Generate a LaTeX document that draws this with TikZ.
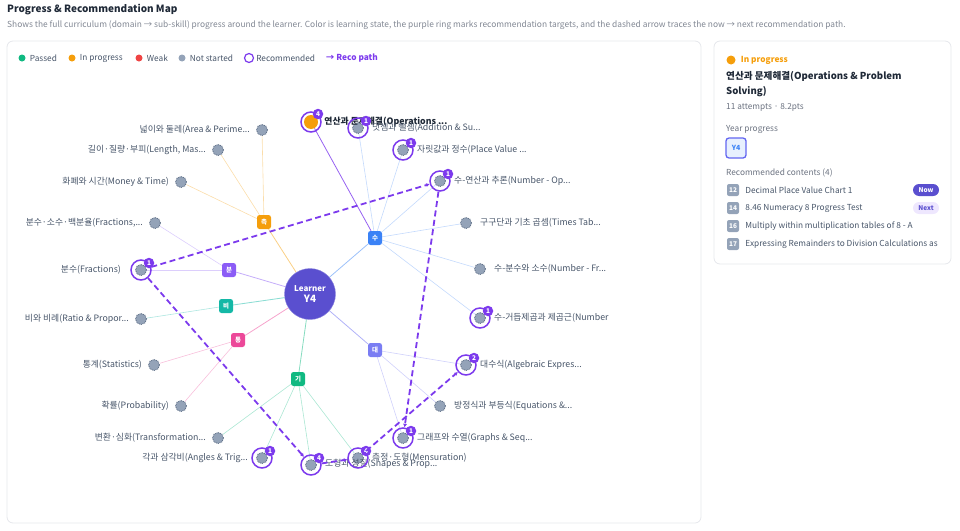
\documentclass[tikz,border=0pt]{standalone}
\usepackage{fontspec}
\setmainfont{Noto Sans CJK KR}
\usetikzlibrary{positioning,arrows.meta}
\pgfdeclarelayer{background}
\pgfsetlayers{background,main}

\definecolor{cOrange}{HTML}{F59E0B}
\definecolor{cBlue}{HTML}{3B82F6}
\definecolor{cViolet}{HTML}{8B5CF6}
\definecolor{cTeal}{HTML}{14B8A6}
\definecolor{cPink}{HTML}{EC4899}
\definecolor{cGreen}{HTML}{10B981}
\definecolor{cIndigo}{HTML}{6366F1}
\definecolor{cRed}{HTML}{EF4444}
\definecolor{cLearner}{HTML}{5A4FCF}
\definecolor{cReco}{HTML}{7C3AED}
\definecolor{cGray}{HTML}{94A3B8}
\definecolor{cGrayDk}{HTML}{64748B}
\definecolor{cText}{HTML}{475569}
\definecolor{cMuted}{HTML}{6B7280}
\definecolor{cBorder}{HTML}{E5E7EB}
\definecolor{cTitle}{HTML}{1F2937}

\begin{document}
\begin{tikzpicture}[x=1pt,y=-1pt,
  panel/.style={draw=cBorder,line width=0.8pt,rounded corners=6pt},
  skill/.style={circle,fill=cGray,draw=cGrayDk,dash pattern=on 0.9pt off 0.9pt,line width=0.9pt,minimum size=11pt,inner sep=0pt},
  ring/.style={circle,draw=cReco,line width=1.5pt,minimum size=20pt,inner sep=0pt},
  badge/.style={circle,fill=cReco,text=white,font=\bfseries\fontsize{6.5}{7}\selectfont,inner sep=0pt,minimum size=10.5pt},
  hub/.style={rounded corners=2.5pt,minimum size=14pt,inner sep=0pt,text=white,font=\bfseries\fontsize{6.5}{7}\selectfont},
  lbl/.style={text=cText,font=\fontsize{8.8}{10}\selectfont,inner sep=0pt},
  reco path/.style={cReco,dash pattern=on 6pt off 3.5pt,line width=1.8pt,-{Latex[length=3.5pt,width=4pt]}},
  dot/.style={circle,inner sep=0pt,minimum size=7pt},
  leg/.style={text=cText,font=\fontsize{8.3}{10}\selectfont,inner sep=0pt,anchor=west},
  ptxt/.style={font=\fontsize{8.3}{10}\selectfont,inner sep=0pt,anchor=west},
  num/.style={fill=cGray,rounded corners=2pt,minimum size=12pt,inner sep=0pt,text=white,font=\bfseries\fontsize{6.5}{7}\selectfont},
  pill/.style={rounded corners=6pt,minimum width=26pt,minimum height=12pt,inner sep=0pt,font=\bfseries\fontsize{6.5}{7}\selectfont}]
\useasboundingbox (0,0) rectangle (960,530);

% header
\node[anchor=west,inner sep=0pt,text=cTitle,font=\bfseries\fontsize{10}{12}\selectfont] (title) at (7,10) {Progress \& Recommendation Map};
\node[anchor=west,inner sep=0pt,text=cMuted!85,font=\fontsize{8.4}{9}\selectfont] (sub) at (7,25) {Shows the full curriculum (domain → sub-skill) progress around the learner. Color is learning state, the purple ring marks recommendation targets, and the dashed arrow traces the now → next recommendation path.};

\draw[panel] (7,41) rectangle (701,523);
\draw[panel] (714,41) rectangle (951,264);

% legend
\node[dot,fill=cGreen] (g1) at (22,58) {};
\node[leg,right=4pt of g1] {Passed};
\node[dot,fill=cOrange] (g2) at (72,58) {};
\node[leg,right=4pt of g2] {In progress};
\node[dot,fill=cRed] (g3) at (139,58) {};
\node[leg,right=4pt of g3] {Weak};
\node[dot,fill=cGray] (g4) at (182,58) {};
\node[leg,right=4pt of g4] {Not started};
\node[circle,draw=cReco,line width=1.2pt,minimum size=9pt,inner sep=0pt] (g5) at (249,58) {};
\node[leg,right=2pt of g5] {Recommended};
\node[leg,text=cReco,font=\bfseries\fontsize{8.3}{10}\selectfont] at (326,58) {→ Reco path};

% learner and domains
\node[circle,fill=cLearner,draw=cLearner!70,minimum size=51pt,inner sep=0pt,text=white,align=center,font=\bfseries\fontsize{8}{11}\selectfont] (L) at (310,294) {Learner\\{\fontsize{10}{11}\selectfont Y4}};
\node[hub,fill=cOrange] (Hmea) at (264,222) {측};
\node[hub,fill=cBlue] (Hnum) at (375,238) {수};
\node[hub,fill=cViolet] (Hfra) at (229,270) {분};
\node[hub,fill=cTeal] (Hrat) at (226,306) {비};
\node[hub,fill=cPink] (Hsta) at (238,340) {통};
\node[hub,fill=cGreen] (Hgeo) at (298,379) {기};
\node[hub,fill=cIndigo!85] (Halg) at (375,350) {대};

% sub-skills
\node[skill] (Sarea) at (262,130) {};
\node[skill] (Slen) at (218,150) {};
\node[skill] (Smon) at (181,182) {};
\node[circle,fill=cOrange,minimum size=14pt,inner sep=0pt] (Sops) at (311,122) {};
\node[skill] (Sadd) at (358,128) {};
\node[skill] (Splace) at (403,150) {};
\node[skill] (Snop) at (440,181) {};
\node[skill] (Stimes) at (466,223) {};
\node[skill] (Snfr) at (480,269) {};
\node[skill] (Snpow) at (480,318) {};
\node[skill] (Sfpc) at (155,223) {};
\node[skill] (Sfr) at (141,270) {};
\node[skill] (Srat) at (141,319) {};
\node[skill] (Sstat) at (154,365) {};
\node[skill] (Sprob) at (181,406) {};
\node[skill] (Strans) at (218,438) {};
\node[skill] (Sang) at (262,458) {};
\node[skill] (Sshape) at (311,465) {};
\node[skill] (Smens) at (358,458) {};
\node[skill] (Salg) at (466,365) {};
\node[skill] (Seq) at (440,406) {};
\node[skill] (Sgraph) at (403,438) {};

% labels
\node[lbl,left=6pt of Sarea] {넓이와 둘레(Area \& Perime...};
\node[lbl,left=6pt of Slen] {길이·질량·부피(Length, Mas...};
\node[lbl,left=6pt of Smon] {화폐와 시간(Money \& Time)};
\node[lbl,left=6pt of Sfpc] {분수·소수·백분율(Fractions,...};
\node[lbl,left=14pt of Sfr] {분수(Fractions)};
\node[lbl,left=6pt of Srat] {비와 비례(Ratio \& Propor...};
\node[lbl,left=6pt of Sstat] {통계(Statistics)};
\node[lbl,left=6pt of Sprob] {확률(Probability)};
\node[lbl,left=6pt of Strans] {변환·심화(Transformation...};
\node[lbl,left=8pt of Sang] {각과 삼각비(Angles \& Trig...};
\node[lbl,right=6pt of Sops,text=cTitle,font=\bfseries\fontsize{8.8}{10}\selectfont] {연산과 문제해결(Operations ...};
\node[lbl,right=8pt of Sadd] {덧셈과 뺄셈(Addition \& Su...};
\node[lbl,right=8pt of Splace] {자릿값과 정수(Place Value ...};
\node[lbl,right=8pt of Snop] {수-연산과 추론(Number - Op...};
\node[lbl,right=8pt of Stimes] {구구단과 기초 곱셈(Times Tab...};
\node[lbl,right=8pt of Snfr] {수-분수와 소수(Number - Fr...};
\node[lbl,right=8pt of Snpow] {수-거듭제곱과 제곱근(Number};
\node[lbl,right=8pt of Salg] {대수식(Algebraic Expres...};
\node[lbl,right=8pt of Seq] {방정식과 부등식(Equations \&...};
\node[lbl,right=8pt of Sgraph] {그래프와 수열(Graphs \& Seq...};
\node[lbl,right=8pt of Smens] {측정·도형(Mensuration)};
\node[lbl,right=8pt of Sshape,yshift=1pt] {도형과 성질(Shapes \& Prop...};

% recommendation rings
\node[ring] (Rops) at (Sops) {};
\node[ring] (Radd) at (Sadd) {};
\node[ring] (Rplace) at (Splace) {};
\node[ring] (Rnop) at (Snop) {};
\node[ring] (Rnpow) at (Snpow) {};
\node[ring] (Rfr) at (Sfr) {};
\node[ring] (Rang) at (Sang) {};
\node[ring] (Rshape) at (Sshape) {};
\node[ring] (Rmens) at (Smens) {};
\node[ring] (Ralg) at (Salg) {};
\node[ring] (Rgraph) at (Sgraph) {};
\node[badge] at ([shift={(7,-8)}]Sops) {4};
\node[badge] at ([shift={(8,-7)}]Sadd) {1};
\node[badge] at ([shift={(8,-7)}]Splace) {1};
\node[badge] at ([shift={(8,-7)}]Snop) {1};
\node[badge] at ([shift={(8,-7)}]Snpow) {1};
\node[badge] at ([shift={(8,-7)}]Sfr) {1};
\node[badge] at ([shift={(8,-7)}]Sang) {1};
\node[badge] at ([shift={(8,-7)}]Sshape) {4};
\node[badge] at ([shift={(8,-7)}]Smens) {4};
\node[badge] at ([shift={(8,-7)}]Salg) {2};
\node[badge] at ([shift={(8,-7)}]Sgraph) {1};

\begin{pgfonlayer}{background}
\draw[cOrange!50,line width=0.8pt] (L) -- (Hmea);
\draw[cBlue!50,line width=0.8pt] (L) -- (Hnum);
\draw[cViolet!50,line width=0.8pt] (L) -- (Hfra);
\draw[cTeal!50,line width=0.8pt] (L) -- (Hrat);
\draw[cPink!50,line width=0.8pt] (L) -- (Hsta);
\draw[cGreen!50,line width=0.8pt] (L) -- (Hgeo);
\draw[cIndigo!50,line width=0.8pt] (L) -- (Halg);

\draw[cOrange!35,line width=0.6pt] (Hmea) -- (Sarea);
\draw[cOrange!35,line width=0.6pt] (Hmea) -- (Slen);
\draw[cOrange!35,line width=0.6pt] (Hmea) -- (Smon);
\draw[cReco!80,line width=0.8pt] (Hnum) -- (Sops);
\foreach \s in {Sadd,Splace,Snop,Stimes,Snfr,Snpow}
  \draw[cBlue!30,line width=0.6pt] (Hnum) -- (\s);
\draw[cViolet!30,line width=0.6pt] (Hfra) -- (Sfpc);
\draw[cViolet!30,line width=0.6pt] (Hfra) -- (Sfr);
\draw[cTeal!35,line width=0.6pt] (Hrat) -- (Srat);
\draw[cPink!35,line width=0.6pt] (Hsta) -- (Sstat);
\draw[cPink!35,line width=0.6pt] (Hsta) -- (Sprob);
\foreach \s in {Strans,Sang,Sshape,Smens}
  \draw[cGreen!35,line width=0.6pt] (Hgeo) -- (\s);
\foreach \s in {Salg,Seq,Sgraph}
  \draw[cIndigo!30,line width=0.6pt] (Halg) -- (\s);
\end{pgfonlayer}

% now -> next path
\draw[reco path] (Rfr) -- (Rnop);
\draw[reco path] (Rnop) -- (Rgraph);
\draw[reco path] (Rfr) -- (Rshape);
\draw[reco path] (Rshape) -- (Rmens);
\draw[reco path] (Rmens) -- (Ralg);

% detail panel
\node[dot,fill=cOrange,minimum size=9pt] (st) at (731,60) {};
\node[ptxt,text=cOrange,font=\bfseries\fontsize{8.3}{10}\selectfont,right=5pt of st] {In progress};
\node[ptxt,text=cTitle,font=\bfseries\fontsize{9.6}{15}\selectfont,align=left,anchor=north west] (dt) at (726,71) {연산과 문제해결(Operations \& Problem\\Solving)};
\node[ptxt,text=cMuted] at (726,107) {11 attempts · 8.2pts};
\node[ptxt,text=cMuted] at (726,129) {Year progress};
\node[draw=cIndigo,line width=1.3pt,fill=cBlue!12,rounded corners=3pt,minimum size=20pt,inner sep=0pt,text=cBlue,font=\bfseries\fontsize{7}{8}\selectfont] (yr) at (736,148) {Y4};
\node[ptxt,text=cMuted] at (726,173) {Recommended contents (4)};
\node[num] (n1) at (733,190) {12};
\node[num] (n2) at (733,208) {14};
\node[num] (n3) at (733,226) {16};
\node[num] (n4) at (733,244) {17};
\node[ptxt,text=cText,right=6pt of n1] {Decimal Place Value Chart 1};
\node[ptxt,text=cText,right=6pt of n2] {8.46 Numeracy 8 Progress Test};
\node[ptxt,text=cText,right=6pt of n3] {Multiply within multiplication tables of 8 - A};
\begin{scope}
\clip (740,235) rectangle (939,255);
\node[ptxt,text=cText,right=6pt of n4] {Expressing Remainders to Division Calculations as};
\end{scope}
\node[pill,fill=cLearner,text=white] at (926,190) {Now};
\node[pill,fill=cViolet!15,text=cLearner] at (926,208) {Next};
\end{tikzpicture}
\end{document}
